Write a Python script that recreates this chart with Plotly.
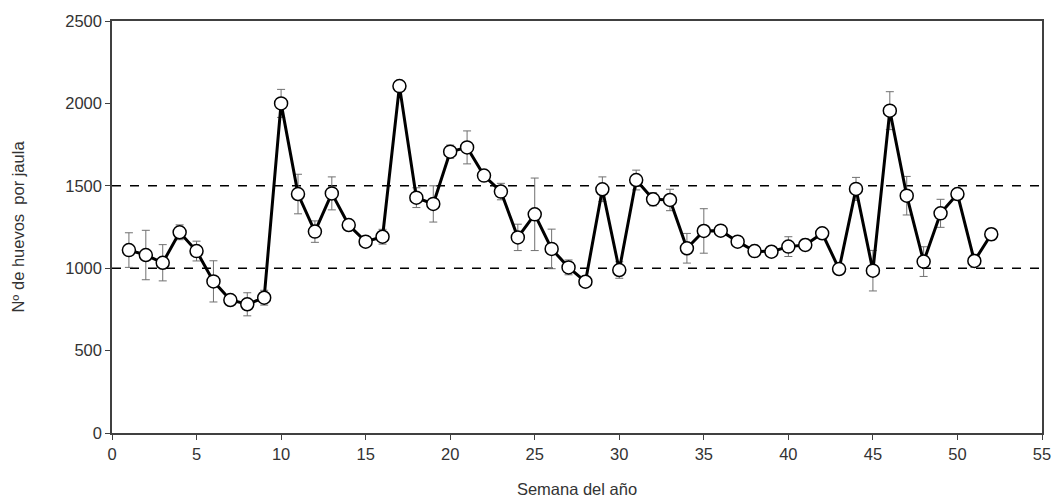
import plotly.graph_objects as go

# Weekly egg production per cage (mean ± error)
semanas = list(range(1, 53))
huevos = [1110, 1080, 1033, 1218, 1104, 920, 807, 781, 821, 2000,
          1450, 1222, 1454, 1262, 1161, 1191, 2105, 1428, 1390, 1707,
          1733, 1562, 1465, 1187, 1327, 1117, 1005, 918, 1479, 989,
          1535, 1418, 1414, 1121, 1226, 1228, 1161, 1104, 1100, 1131,
          1141, 1212, 995, 1481, 985, 1956, 1440, 1040, 1333, 1450,
          1044, 1206]
error = [105, 150, 110, 45, 60, 125, 20, 70, 45, 85,
         120, 65, 100, 25, 30, 45, 15, 60, 110, 40,
         100, 30, 50, 80, 220, 120, 45, 25, 75, 50,
         60, 40, 65, 90, 135, 25, 20, 35, 20, 60,
         35, 20, 15, 70, 123, 115, 117, 90, 85, 25,
         40, 35]
referencias = [1000, 1500]

x_ticks = list(range(0, 56, 5))
y_ticks = list(range(0, 2501, 500))

FONT = "Liberation Sans, Arial"
TXT = "#333333"

fig = go.Figure()

for ref in referencias:
    fig.add_trace(go.Scatter(
        x=[0, 55], y=[ref, ref], mode="lines",
        line=dict(color="black", width=1.5, dash="dash"),
        hoverinfo="skip", showlegend=False))

fig.add_trace(go.Scatter(
    x=semanas, y=huevos, mode="lines+markers",
    line=dict(color="black", width=3),
    marker=dict(symbol="circle", size=13, color="white",
                line=dict(color="black", width=1.5)),
    error_y=dict(type="data", array=error, visible=True,
                 color="#707070", thickness=1, width=4),
    showlegend=False))

axis_common = dict(
    showline=True, linecolor="#404040", linewidth=1.5, mirror=True,
    ticks="outside", ticklen=5, tickcolor="#404040", tickwidth=1,
    showgrid=False, zeroline=False, automargin=False,
    tickfont=dict(family=FONT, size=16.5, color=TXT),
)

fig.update_layout(
    width=1055, height=499,
    paper_bgcolor="white", plot_bgcolor="white",
    margin=dict(l=112, r=13, t=21, b=66),
    xaxis=dict(range=[0, 55], tickvals=x_ticks, **axis_common,
               title=dict(text="Semana del año", standoff=22,
                          font=dict(family=FONT, size=16.5, color=TXT))),
    yaxis=dict(range=[0, 2500], tickvals=y_ticks, **axis_common,
               title=dict(text="Nº de huevos  por jaula", standoff=36,
                          font=dict(family=FONT, size=16.5, color=TXT))),
)

fig.write_html("out.html")
